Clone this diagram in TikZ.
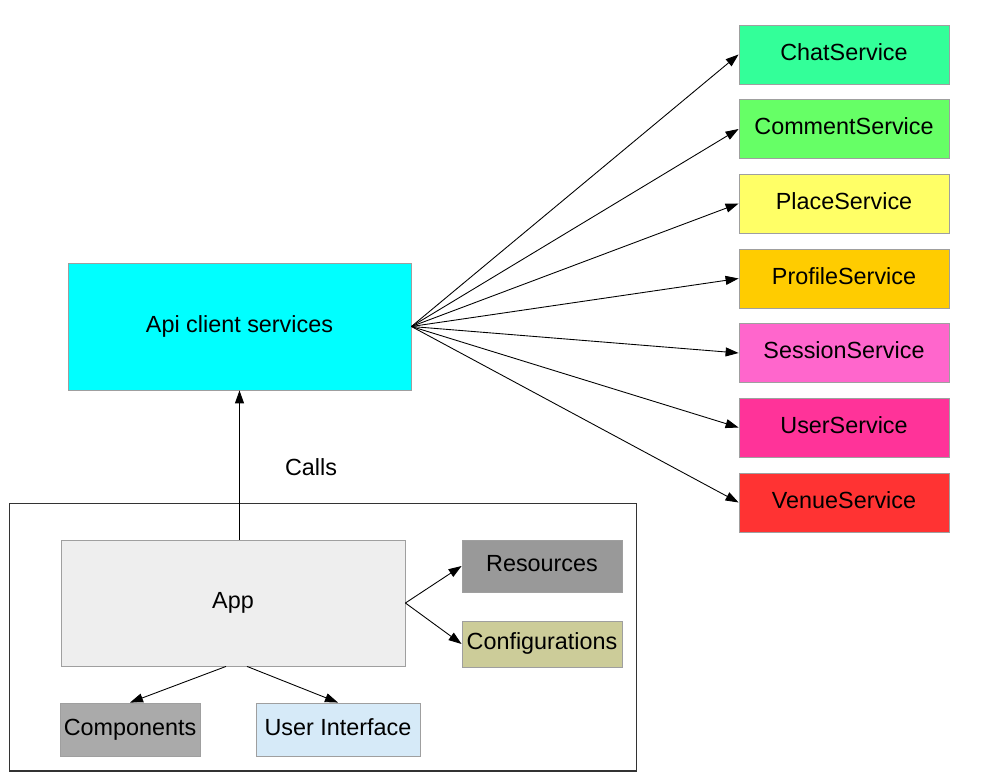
\documentclass[tikz,border=0pt]{standalone}
\usepackage{fontspec}
\setmainfont{Liberation Sans}
\usepackage{xcolor}
\usetikzlibrary{arrows.meta, positioning}
\definecolor{chatcolor}{RGB}{51,255,153}
\definecolor{commentcolor}{RGB}{102,255,102}
\definecolor{placecolor}{RGB}{255,255,102}
\definecolor{profilecolor}{RGB}{255,204,0}
\definecolor{sessioncolor}{RGB}{255,102,204}
\definecolor{usercolor}{RGB}{255,51,153}
\definecolor{venuecolor}{RGB}{255,51,51}
\definecolor{apicolor}{RGB}{0,255,255}
\definecolor{appcolor}{RGB}{238,238,238}
\definecolor{resourcecolor}{RGB}{153,153,153}
\definecolor{configcolor}{RGB}{204,204,153}
\definecolor{componentcolor}{RGB}{170,170,170}
\definecolor{uicolor}{RGB}{214,234,248}

\begin{document}
\begin{tikzpicture}[x=0.02cm, y=-0.02cm,
    every node/.style={font=\fontsize{13.3}{16}\selectfont},
    box/.style={draw=gray!75, line width=0.5pt, inner sep=1pt, text height=1.7ex, text depth=0.45ex},
    service/.style={box, minimum width=4.2cm, minimum height=1.18cm},
    flow/.style={-{Triangle[length=2.6mm, width=1.8mm]}, line width=0.5pt}]
    \useasboundingbox (0,0) rectangle (983,776);

    % Services
    \node[service, fill=chatcolor] (chat) at (844,54.5) {ChatService};
    \node[service, fill=commentcolor] (comment) at (844,129) {CommentService};
    \node[service, fill=placecolor] (place) at (844,203.5) {PlaceService};
    \node[service, fill=profilecolor] (profile) at (844,278.5) {ProfileService};
    \node[service, fill=sessioncolor] (session) at (844,353) {SessionService};
    \node[service, fill=usercolor] (user) at (844,427.5) {UserService};
    \node[service, fill=venuecolor] (venue) at (844,502.5) {VenueService};

    % Api client
    \node[box, fill=apicolor, minimum width=6.86cm, minimum height=2.54cm] (api) at (239.5,326.5) {Api client services};

    % App package
    \node[draw, line width=0.6pt, draw=black!80, minimum width=12.56cm, minimum height=5.36cm] (frame) at (323,637) {};
    \node[box, fill=appcolor, minimum width=6.88cm, minimum height=2.52cm] (app) at (233,603) {App};
    \node[box, fill=resourcecolor, minimum width=3.2cm, minimum height=1.04cm] (res) at (542,566) {Resources};
    \node[box, fill=configcolor, minimum width=3.2cm, minimum height=0.92cm] (config) at (542,644) {Configurations};
    \node[box, fill=componentcolor, minimum width=2.8cm, minimum height=1.06cm] (comp) at (130,729.5) {Components};
    \node[box, fill=uicolor, minimum width=3.28cm, minimum height=1.06cm] (ui) at (338,729.5) {User Interface};

    % Calls
    \draw[flow] (app.north -| api.south) -- (api.south);
    \node (calls) at (311,467) {Calls};

    \draw[flow] (api.east) -- (chat.west);
    \draw[flow] (api.east) -- (comment.west);
    \draw[flow] (api.east) -- (place.west);
    \draw[flow] (api.east) -- (profile.west);
    \draw[flow] (api.east) -- (session.west);
    \draw[flow] (api.east) -- (user.west);
    \draw[flow] (api.east) -- (venue.west);

    \draw[flow] (app.east) -- (res.west);
    \draw[flow] (app.east) -- (config.west);
    \draw[flow] ([xshift=-0.14cm]app.south) -- (comp.north);
    \draw[flow] ([xshift=0.28cm]app.south) -- (ui.north);
\end{tikzpicture}
\end{document}
